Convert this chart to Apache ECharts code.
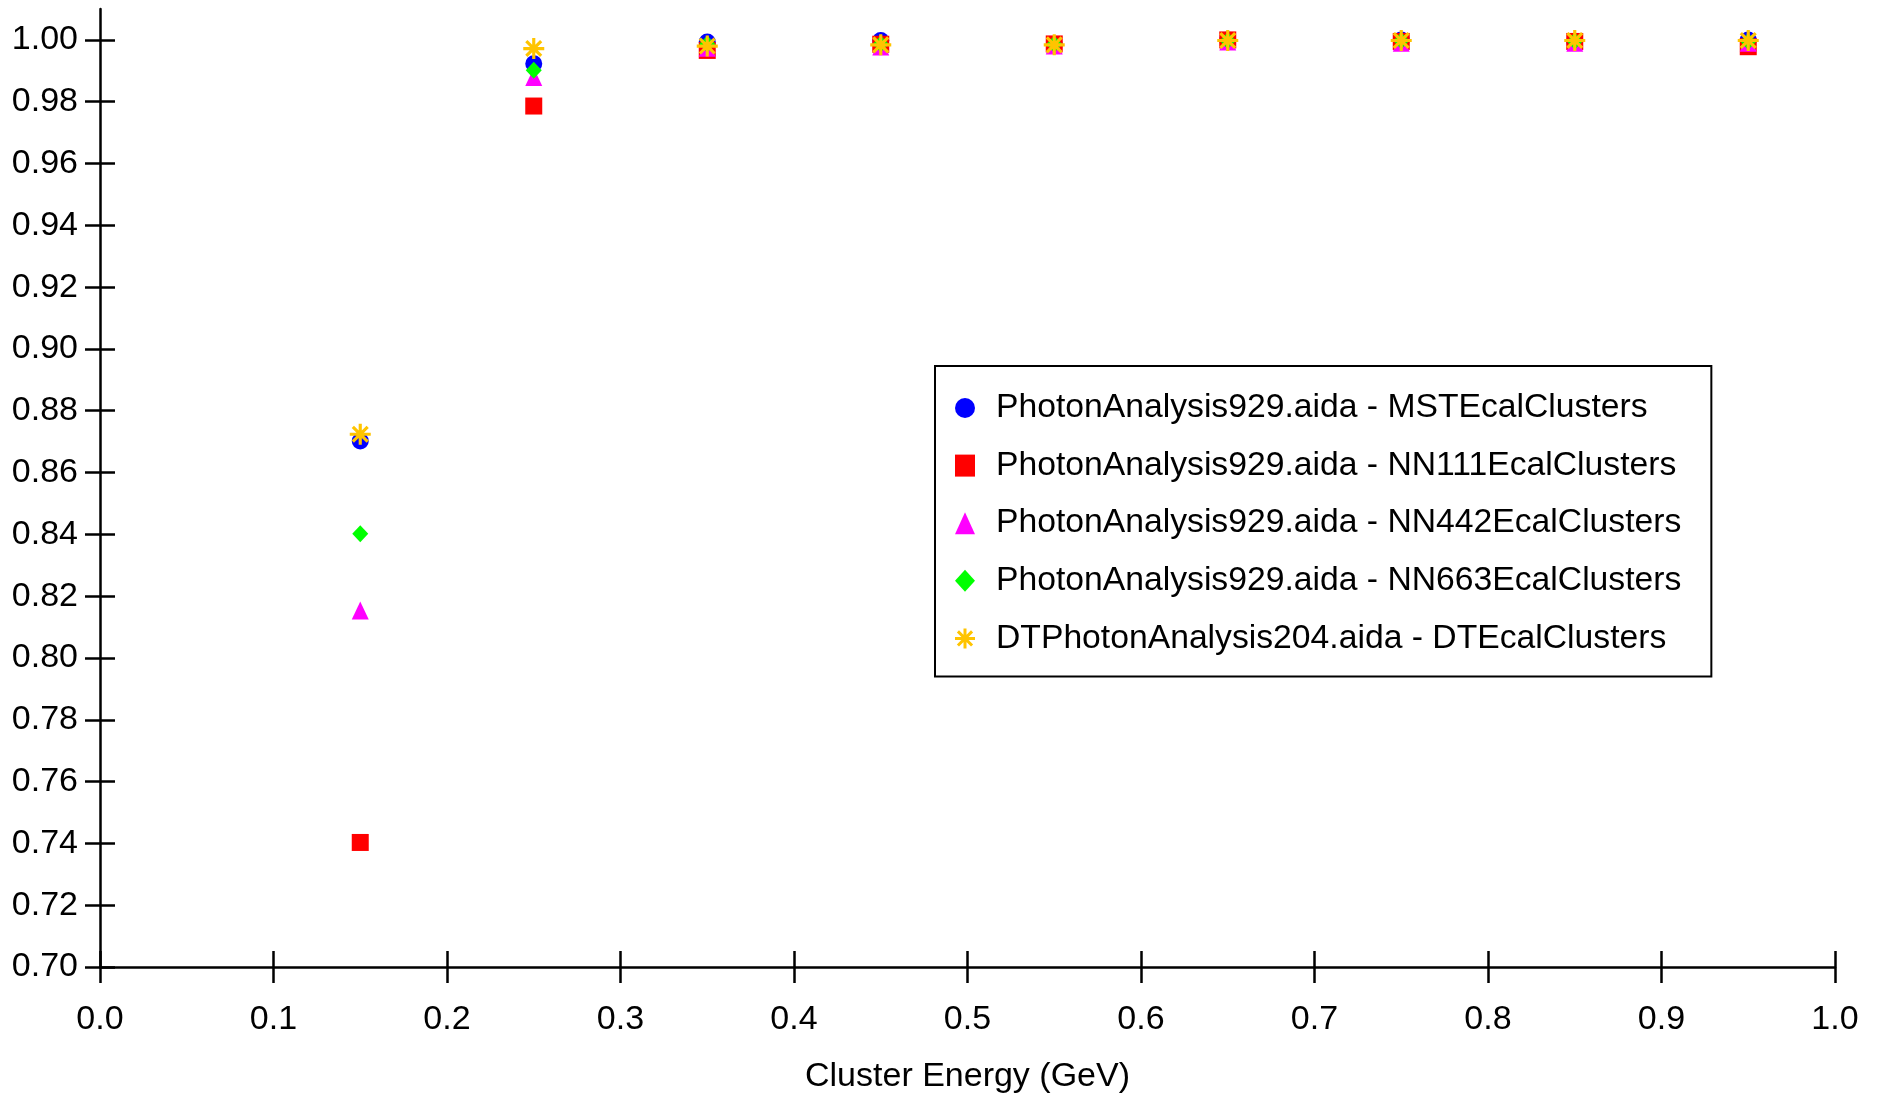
<!DOCTYPE html>
<html>
<head>
<meta charset="utf-8">
<script src="https://cdn.jsdelivr.net/npm/echarts@6/dist/echarts.min.js"></script>
<style>
html,body{margin:0;padding:0;background:#fff;}
#chart{width:1881px;height:1097px;}
</style>
</head>
<body>
<div id="chart"></div>
<script>
const energies = [0.15, 0.25, 0.35, 0.45, 0.55, 0.65, 0.75, 0.85, 0.95];
const mstValues   = [0.8702, 0.9923, 0.9993, 0.9998, 0.9986, 1.0000, 1.0000, 0.9995, 1.0000];
const nn111Values = [0.7403, 0.9786, 0.9966, 0.9986, 0.9987, 1.0000, 0.9995, 0.9995, 0.9978];
const nn442Values = [0.8154, 0.9880, 0.9975, 0.9979, 0.9982, 0.9995, 0.9991, 0.9991, 0.9991];
const nn663Values = [0.8402, 0.9902, 0.9987, 0.9987, 0.9986, 0.9997, 0.9997, 0.9996, 0.9995];
const dtValues    = [0.8724, 0.9972, 0.9980, 0.9984, 0.9984, 0.9998, 0.9998, 0.9998, 0.9998];

const seriesNames = [
  'PhotonAnalysis929.aida - MSTEcalClusters',
  'PhotonAnalysis929.aida - NN111EcalClusters',
  'PhotonAnalysis929.aida - NN442EcalClusters',
  'PhotonAnalysis929.aida - NN663EcalClusters',
  'DTPhotonAnalysis204.aida - DTEcalClusters'
];
const xTicks = [0.0, 0.1, 0.2, 0.3, 0.4, 0.5, 0.6, 0.7, 0.8, 0.9, 1.0];
const yTicks = [0.70, 0.72, 0.74, 0.76, 0.78, 0.80, 0.82, 0.84, 0.86, 0.88, 0.90, 0.92, 0.94, 0.96, 0.98, 1.00];
const xTitle = 'Cluster Energy (GeV)';

const FONT = '"Liberation Sans", Arial, Helvetica, sans-serif';
const FS = 34;
const starPath = 'path://M0 8.5L20 8.5L20 11.5L0 11.5Z M8.5 0L11.5 0L11.5 20L8.5 20Z M1.87 3.99L3.99 1.87L18.13 16.01L16.01 18.13Z M16.01 1.87L18.13 3.99L3.99 18.13L1.87 16.01Z';

function pairs(vals){ return energies.map((x,i)=>[x, vals[i]]); }

const styles = [
  {symbol:'circle', size:17, color:'#0000FF', data: mstValues},
  {symbol:'rect', size:17, color:'#FF0000', data: nn111Values},
  {symbol:'triangle', size:[17,18], color:'#FF00FF', data: nn442Values},
  {symbol:'diamond', size:[16,17], color:'#00FF00', data: nn663Values},
  {symbol:starPath, size:21, color:'#FFC400', data: dtValues}
];

const axisLineStyle = {color:'#000', width:2.5};
const chart = echarts.init(document.getElementById('chart'), null, {renderer:'canvas'});
const option = {
  backgroundColor:'#fff',
  animation:false,
  grid:{left:100, right:46, top:9, bottom:130, containLabel:false, outerBoundsMode:'none'},
  xAxis:[{
    type:'value', min:0, max:1, interval:0.1, position:'bottom',
    axisLine:{show:true, onZero:false, lineStyle:axisLineStyle},
    axisTick:{show:true, length:16, lineStyle:axisLineStyle, customValues:xTicks},
    axisLabel:{show:true, margin:36, color:'#000', fontSize:FS, fontFamily:FONT, customValues:xTicks,
      formatter:v=>Number(v).toFixed(1)},
    splitLine:{show:false},
    name:xTitle, nameLocation:'middle', nameGap:93,
    nameTextStyle:{color:'#000', fontSize:FS, fontFamily:FONT}
  },{
    type:'value', min:0, max:1, interval:0.1, position:'bottom',
    axisLine:{show:false, onZero:false},
    axisTick:{show:true, inside:true, length:16, lineStyle:axisLineStyle, customValues:xTicks},
    axisLabel:{show:false}, splitLine:{show:false}
  }],
  yAxis:[{
    type:'value', min:0.70, max:1.01, interval:0.02, position:'left',
    axisLine:{show:true, onZero:false, lineStyle:axisLineStyle},
    axisTick:{show:true, length:15, lineStyle:axisLineStyle, customValues:yTicks},
    axisLabel:{show:true, margin:22, color:'#000', fontSize:FS, fontFamily:FONT, customValues:yTicks,
      formatter:v=>Number(v).toFixed(2)},
    splitLine:{show:false}
  },{
    type:'value', min:0.70, max:1.01, interval:0.02, position:'left',
    axisLine:{show:false, onZero:false},
    axisTick:{show:true, inside:true, length:15, lineStyle:axisLineStyle, customValues:yTicks},
    axisLabel:{show:false}, splitLine:{show:false}
  }],
  legend:{
    orient:'vertical', left:935, top:366,
    padding:[24, 30, 20, 20],
    itemGap:21.6, itemWidth:20, itemHeight:22,
    borderColor:'#000', borderWidth:2, backgroundColor:'#fff',
    textStyle:{color:'#000', fontSize:33.7, fontFamily:FONT, lineHeight:36, padding:[0,0,0,16]},
    data: seriesNames.map((n,i)=>({name:n, icon: styles[i].symbol})),
    selectedMode:false
  },
  series: styles.map((s,i)=>({
    type:'scatter', name:seriesNames[i], xAxisIndex:0, yAxisIndex:0,
    symbol:s.symbol, symbolSize:s.size,
    itemStyle:{color:s.color, opacity:1},
    data: pairs(s.data)
  }))
};
chart.setOption(option);
</script>
</body>
</html>
